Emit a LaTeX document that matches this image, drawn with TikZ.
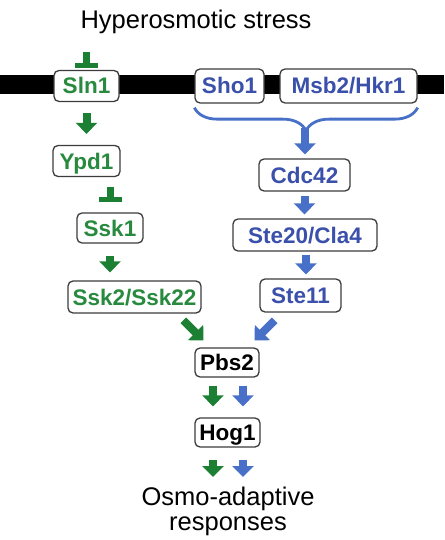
\documentclass[tikz,border=0pt]{standalone}
\usepackage{fontspec}
\setmainfont{Liberation Sans}
\usetikzlibrary{arrows.meta,decorations.pathreplacing}
\definecolor{gtext}{RGB}{40,138,62}
\definecolor{garr}{RGB}{28,128,52}
\definecolor{btext}{RGB}{58,80,170}
\definecolor{barr}{RGB}{72,112,200}
\definecolor{bordercol}{RGB}{60,60,60}
\tikzset{
  protbox/.style={draw=bordercol, line width=1.3pt, rounded corners=5pt, fill=white,
    inner xsep=0pt, inner ysep=0pt, minimum height=31pt,
    font=\fontsize{22.5}{27}\selectfont\bfseries, text height=16pt, text depth=0pt},
  gbox/.style={protbox, text=gtext},
  bbox/.style={protbox, text=btext},
  kbox/.style={protbox, text=black, minimum height=29pt},
  blockarr/.style={line width=8pt, -{Triangle[width=21pt,length=11pt]}},
  inhib/.style={line width=7pt, -{Rectangle[width=23pt,length=5pt]}},
  bigtext/.style={font=\fontsize{25.5}{25}\selectfont, inner sep=0pt}
}
\begin{document}
\begin{tikzpicture}[x=1pt,y=-1pt]
\useasboundingbox[fill=white] (0,0) rectangle (444,540);
% membrane bar
\fill[black] (0,75) rectangle (444,94);
% header
\node[bigtext, anchor=base] (hdr) at (196,29) {Hyperosmotic stress};
% boxes
\node[gbox, minimum width=65pt] (sln1) at (86.5,86) {Sln1};
\node[bbox, minimum width=69pt, minimum height=34pt] (sho1) at (229.5,86) {Sho1};
\node[bbox, minimum width=137pt, minimum height=34pt] (msb) at (348.5,86) {Msb2/Hkr1};
\node[gbox, minimum width=67pt] (ypd1) at (86.5,161) {Ypd1};
\node[gbox, minimum width=66pt, minimum height=30pt] (ssk1) at (110,228) {Ssk1};
\node[gbox, minimum width=133pt, minimum height=32pt] (ssk2) at (134.5,297) {Ssk2/Ssk22};
\node[bbox, minimum width=91pt, minimum height=32pt] (cdc) at (304.5,175) {Cdc42};
\node[bbox, minimum width=144pt, minimum height=32pt] (ste20) at (305,235) {Ste20/Cla4};
\node[bbox, minimum width=81pt, minimum height=33pt] (ste11) at (300.5,295.5) {Ste11};
\node[kbox, minimum width=64pt] (pbs2) at (227,362.5) {Pbs2};
\node[kbox, minimum width=65pt] (hog1) at (227.5,432.5) {Hog1};
\node[bigtext, anchor=north, align=center] (out) at (228,487) {Osmo-adaptive\\responses};
% green branch
\draw[inhib, garr] ([yshift=18pt]sln1.north) -- ([yshift=2pt]sln1.north);
\draw[blockarr, garr, shorten <=11pt, shorten >=11pt] (sln1.south) -- (ypd1.north);
\draw[inhib, garr, shorten <=10pt, shorten >=10pt] (ssk1.north |- ypd1.south) -- (ssk1.north);
\draw[blockarr, garr, shorten <=12pt, shorten >=8pt] (ssk1.south) -- (ssk1.south |- ssk2.north);
\draw[blockarr, garr] ([shift={(-11,-27)}]pbs2.north west) -- ([shift={(9,-7)}]pbs2.north west);
% blue branch
\draw[barr, line width=2.8pt, decorate, decoration={brace, mirror, amplitude=23pt}]
  ([yshift=-4pt]sho1.south west) -- ([yshift=-4pt]msb.south east);
\coordinate (bt) at (305,128);
\draw[blockarr, barr, shorten >=4pt] (bt) -- (bt |- cdc.north);
\draw[blockarr, barr, shorten <=4pt, shorten >=4pt] (cdc.south) -- (cdc.south |- ste20.north);
\draw[blockarr, barr, shorten <=3pt, shorten >=4pt] ([xshift=1pt]ste20.south) -- ([xshift=1pt]ste20.south |- ste11.north);
\draw[blockarr, barr] ([shift={(15,-27)}]pbs2.north east) -- ([shift={(-5,-7)}]pbs2.north east);
% common trunk
\draw[blockarr, garr, shorten <=8pt, shorten >=11pt] ([xshift=-14pt]pbs2.south) -- ([xshift=-14.5pt]hog1.north);
\draw[blockarr, barr, shorten <=8pt, shorten >=11pt] ([xshift=16pt]pbs2.south) -- ([xshift=15.5pt]hog1.north);
\draw[blockarr, garr, shorten <=12pt, shorten >=10pt] ([xshift=-14.5pt]hog1.south) -- ([xshift=-14.5pt]hog1.south |- out.north);
\draw[blockarr, barr, shorten <=12pt, shorten >=10pt] ([xshift=15.5pt]hog1.south) -- ([xshift=15.5pt]hog1.south |- out.north);
\end{tikzpicture}
\end{document}
